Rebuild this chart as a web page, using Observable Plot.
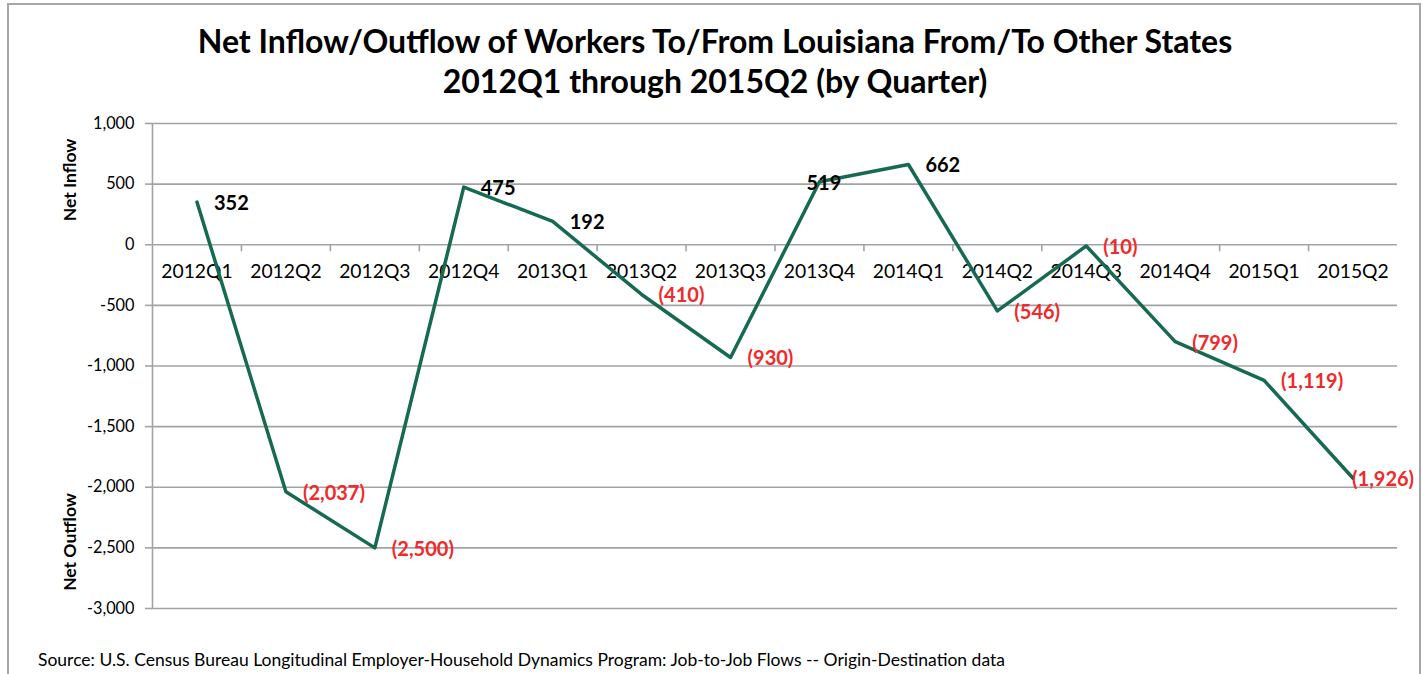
<!DOCTYPE html>
<html>
<head>
<meta charset="utf-8">
<script src="https://cdn.jsdelivr.net/npm/d3@7"></script>
<script src="https://cdn.jsdelivr.net/npm/@observablehq/plot@0.6"></script>
<style>
  html, body { margin: 0; padding: 0; background: #fff; }
  body { width: 1425px; height: 674px; overflow: hidden; font-family: Lato, "Noto Sans", sans-serif; }
  #wrap { position: relative; width: 1425px; height: 674px; }
  #frame { position: absolute; left: 7px; top: 3px; width: 1414px; height: 700px; border: 2px solid #a6a6a6; box-sizing: border-box; }
  #title { position: absolute; left: 0; top: 21px; width: 1430px; text-align: center; font-weight: bold; font-size: 32px; line-height: 40px; color: #000; }
  #chart { position: absolute; left: 0; top: 100px; }
  .ylab { position: absolute; font-weight: bold; font-size: 17.5px; white-space: nowrap; transform: translate(-50%, -50%) rotate(-90deg); }
  #source { position: absolute; left: 38px; top: 649px; font-size: 17.5px; white-space: nowrap; }
</style>
</head>
<body>
<div id="wrap">
  <div id="frame"></div>
  <div id="title">Net Inflow/Outflow of Workers To/From Louisiana From/To Other States<br>2012Q1 through 2015Q2 (by Quarter)</div>
  <div id="chart"></div>
  <div class="ylab" style="left:69px; top:180px;">Net Inflow</div>
  <div class="ylab" style="left:69px; top:542px;">Net Outflow</div>
  <div id="source">Source: U.S. Census Bureau Longitudinal Employer-Household Dynamics Program: Job-to-Job Flows -- Origin-Destination data</div>
</div>
<script>
const quarters = ["2012Q1","2012Q2","2012Q3","2012Q4","2013Q1","2013Q2","2013Q3","2013Q4","2014Q1","2014Q2","2014Q3","2014Q4","2015Q1","2015Q2"];
const netFlow = [352, -2037, -2500, 475, 192, -410, -930, 519, 662, -546, -10, -799, -1119, -1926];
const yTicks = [-3000, -2500, -2000, -1500, -1000, -500, 0, 500, 1000];
const labelShift = [17, 17, 17, 17, 17, 17, 17, -13, 17, 17, 17, 17, 17, -1];

const data = quarters.map((q, i) => ({q, i, x: i + 0.5, v: netFlow[i], dx: labelShift[i]}));
const boundaries = d3.range(1, quarters.length);
const fmtNum = v => Math.abs(v).toLocaleString("en-US");
const fmtTick = v => v.toLocaleString("en-US");
const lineColor = "#176a52";
const gridColor = "#a3a3a3";
const red = "#f02a2a";

const labelMarks = Array.from(d3.group(data, d => d.dx), ([dx, rows]) =>
  Plot.text(rows, {
    x: "x", y: "v",
    text: d => d.v < 0 ? "(" + fmtNum(d.v) + ")" : fmtNum(d.v),
    fill: d => d.v < 0 ? red : "#000",
    dx, dy: 1.5, textAnchor: "start", fontSize: 20, fontWeight: "bold"
  })
);

const plot = Plot.plot({
  width: 1425,
  height: 540,
  marginLeft: 152,
  marginRight: 28,
  marginTop: 23,
  marginBottom: 32,
  style: {fontFamily: "Lato, 'Noto Sans', sans-serif", overflow: "visible"},
  x: {type: "linear", domain: [0, quarters.length], axis: null},
  y: {domain: [-3000, 1000], axis: null},
  color: {type: "identity"},
  marks: [
    Plot.ruleY(yTicks, {stroke: gridColor, strokeWidth: 1.6}),
    Plot.ruleX([0], {stroke: gridColor, strokeWidth: 1.6}),
    Plot.axisY({ticks: yTicks, tickFormat: fmtTick, label: null, tickSize: 7, tickPadding: 11, stroke: gridColor, strokeWidth: 1.6, strokeOpacity: 1, fontSize: 16.3, fill: "#000"}),
    Plot.ruleX(boundaries, {x: d => d, y1: 0, y2: -58, stroke: gridColor, strokeWidth: 1.6}),
    Plot.text(data, {x: "x", y: () => 0, text: "q", dy: 27, fontSize: 19.3, fill: "#000"}),
    Plot.line(data, {x: "x", y: "v", stroke: lineColor, strokeWidth: 3.5}),
    ...labelMarks
  ]
});
document.getElementById("chart").appendChild(plot);
</script>
</body>
</html>
